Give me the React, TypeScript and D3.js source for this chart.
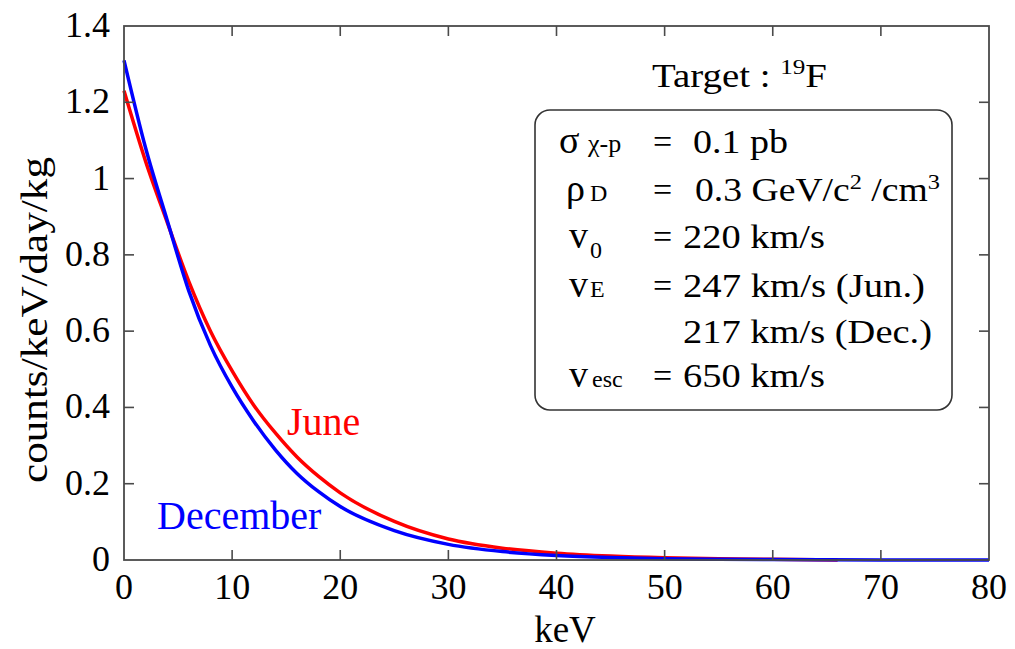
import * as React from 'react';
import * as d3 from 'd3';

// recoil spectra (counts/keV/day/kg vs keV)
const juneEnergy = [0, 2, 4, 6, 8, 10, 12, 14, 16, 18, 20, 25, 30, 35, 40, 45, 50, 55, 60, 66];
const juneRate = [1.23, 1.045, 0.885, 0.73, 0.6, 0.496, 0.406, 0.333, 0.27, 0.219, 0.176, 0.101, 0.055, 0.031, 0.018, 0.0105, 0.006, 0.0035, 0.002, 0.0003];

const decEnergy = [0, 2, 4, 6, 8, 10, 12, 14, 16, 18, 20, 25, 30, 35, 40, 45, 50, 55, 60, 65, 70, 75, 80];
const decRate = [1.31, 1.08, 0.89, 0.705, 0.562, 0.453, 0.364, 0.289, 0.227, 0.179, 0.14, 0.077, 0.041, 0.022, 0.012, 0.0066, 0.0036, 0.002, 0.001, 0.0005, 0.0002, 0.0001, 0];

const xTicks = [0, 10, 20, 30, 40, 50, 60, 70, 80];
const yTicks = [0, 0.2, 0.4, 0.6, 0.8, 1, 1.2, 1.4];

const font = 'Liberation Serif, DejaVu Serif, Times New Roman, serif';

export default function App() {
  const left = 124;
  const right = 989;
  const top = 26;
  const bottom = 560;
  const tick = 10;
  const axisColor = '#4a4a4a';

  const x = d3.scaleLinear().domain([0, 80]).range([left, right]);
  const y = d3.scaleLinear().domain([0, 1.4]).range([bottom, top]);

  const line = d3
    .line<[number, number]>()
    .x((d) => x(d[0]))
    .y((d) => y(d[1]))
    .curve(d3.curveMonotoneX);

  const june = line(juneEnergy.map((e, i) => [e, juneRate[i]] as [number, number])) || '';
  const dec = line(decEnergy.map((e, i) => [e, decRate[i]] as [number, number])) || '';

  const eqX = 653;
  const valX = 683;

  return (
    <svg
      width={1015}
      height={649}
      style={{ position: 'absolute', left: 0, top: 0, background: '#fff', fontFamily: font }}
    >
      {/* curves */}
      <path d={june} fill="none" stroke="#ff0000" strokeWidth={3.5} />
      <path d={dec} fill="none" stroke="#0000ff" strokeWidth={3.5} />

      {/* frame */}
      <rect
        x={left}
        y={top}
        width={right - left}
        height={bottom - top}
        fill="none"
        stroke={axisColor}
        strokeWidth={1.8}
      />
      {xTicks.slice(1, -1).map((t) => (
        <g key={'xt' + t} stroke={axisColor} strokeWidth={1.6}>
          <line x1={x(t)} x2={x(t)} y1={bottom} y2={bottom - tick} />
          <line x1={x(t)} x2={x(t)} y1={top} y2={top + tick} />
        </g>
      ))}
      {yTicks.slice(1, -1).map((t) => (
        <g key={'yt' + t} stroke={axisColor} strokeWidth={1.6}>
          <line x1={left} x2={left + tick} y1={y(t)} y2={y(t)} />
          <line x1={right} x2={right - tick} y1={y(t)} y2={y(t)} />
        </g>
      ))}

      {/* tick labels */}
      {xTicks.map((t) => (
        <text key={'xl' + t} x={x(t)} y={599} fontSize={36} textAnchor="middle" fill="#000">
          {t}
        </text>
      ))}
      {yTicks.map((t) => (
        <text key={'yl' + t} x={110} y={y(t) + 11} fontSize={36} textAnchor="end" fill="#000">
          {d3.format('~g')(t)}
        </text>
      ))}

      {/* axis titles */}
      <text x={565} y={642} fontSize={37} textAnchor="middle" fill="#000">
        keV
      </text>
      <text
        transform="translate(47,320) rotate(-90)"
        fontSize={37}
        textAnchor="middle"
        textLength={326}
        lengthAdjust="spacingAndGlyphs"
        fill="#000"
      >
        counts/keV/day/kg
      </text>

      {/* series labels */}
      <text x={287} y={435} fontSize={40} fill="#ff0000">
        June
      </text>
      <text x={157} y={529} fontSize={40} fill="#0000ff">
        December
      </text>

      {/* target */}
      <text x={652} y={87} fontSize={34} fill="#000" textLength={175} lengthAdjust="spacingAndGlyphs">
        Target :{' '}
        <tspan fontSize={22} dy={-13}>
          19
        </tspan>
        <tspan dy={13}>F</tspan>
      </text>

      {/* parameter box */}
      <rect x={535} y={110} width={417} height={300} rx={15} ry={15} fill="none" stroke="#333" strokeWidth={1.6} />

      <g fill="#000">
        <text x={559} y={153} fontSize={38}>σ</text>
        <text x={588} y={152} fontSize={26}>χ-p</text>
        <text x={eqX} y={153} fontSize={34}>=</text>
        <text x={693} y={153} fontSize={34} textLength={95} lengthAdjust="spacingAndGlyphs">
          0.1 pb
        </text>

        <text x={566} y={201} fontSize={38}>ρ</text>
        <text x={590} y={201} fontSize={24}>D</text>
        <text x={eqX} y={201} fontSize={34}>=</text>
        <text x={695} y={201} fontSize={34} textLength={245} lengthAdjust="spacingAndGlyphs">
          0.3 GeV/c
          <tspan fontSize={22} dy={-12}>2</tspan>
          <tspan dy={12}> /cm</tspan>
          <tspan fontSize={22} dy={-12}>3</tspan>
        </text>

        <text x={569} y={248} fontSize={38}>v</text>
        <text x={590} y={258} fontSize={24}>0</text>
        <text x={eqX} y={248} fontSize={34}>=</text>
        <text x={valX} y={248} fontSize={34} textLength={142} lengthAdjust="spacingAndGlyphs">
          220 km/s
        </text>

        <text x={569} y={297} fontSize={38}>v</text>
        <text x={590} y={297} fontSize={24}>E</text>
        <text x={eqX} y={297} fontSize={34}>=</text>
        <text x={valX} y={297} fontSize={34} textLength={242} lengthAdjust="spacingAndGlyphs">
          247 km/s (Jun.)
        </text>

        <text x={valX} y={343} fontSize={34} textLength={249} lengthAdjust="spacingAndGlyphs">
          217 km/s (Dec.)
        </text>

        <text x={569} y={387} fontSize={38}>v</text>
        <text x={592} y={387} fontSize={24}>esc</text>
        <text x={eqX} y={387} fontSize={34}>=</text>
        <text x={valX} y={387} fontSize={34} textLength={142} lengthAdjust="spacingAndGlyphs">
          650 km/s
        </text>
      </g>
    </svg>
  );
}
